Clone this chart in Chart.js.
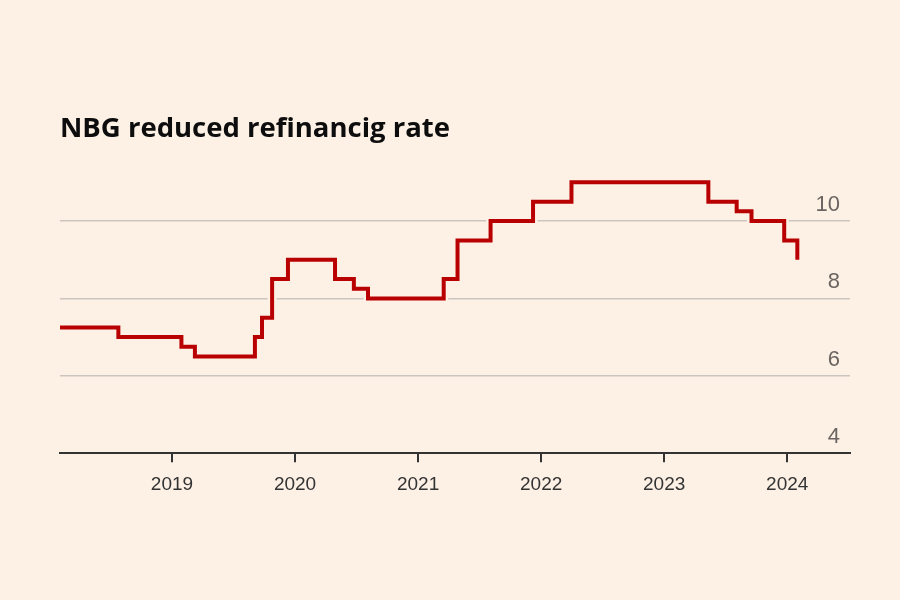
<!DOCTYPE html>
<html>
<head>
<meta charset="UTF-8"/>
<title>NBG refinancing rate</title>
<script src="https://cdn.jsdelivr.net/npm/chart.js@4/dist/chart.umd.min.js"></script>
<style type="text/css">
    body { margin: 0; background: #fdf1e6; }
    #holder { width: 900px; height: 600px; }
</style>
</head>
<body>
<div id="holder">
    <canvas id="chart-area" width="900" height="600"></canvas>
</div>
<script type="text/javascript">
    // rate changes: date the new rate took effect, and the rate
    var dates = ["2018-02-01", "2018-07-26", "2019-01-29", "2019-03-10", "2019-09-04",
                 "2019-09-25", "2019-10-25", "2019-12-11", "2020-04-29", "2020-06-24",
                 "2020-08-05", "2021-03-18", "2021-04-28", "2021-08-04", "2021-12-08",
                 "2022-04-01", "2023-05-12", "2023-08-04", "2023-09-17", "2023-12-23",
                 "2024-01-31"];
    var rates = [7.25, 7.0, 6.75, 6.5, 7.0,
                 7.5, 8.5, 9.0, 8.5, 8.25,
                 8.0, 8.5, 9.5, 10.0, 10.5,
                 11.0, 10.5, 10.25, 10.0, 9.5,
                 9.0];
    var yearTicks = [2019, 2020, 2021, 2022, 2023, 2024];
    var rateTicks = [4, 6, 8, 10];

    var bg = "#fdf1e6";

    function toYear(s) {
        var d = new Date(s + "T00:00:00Z");
        var y = d.getUTCFullYear();
        var a = Date.UTC(y, 0, 1), b = Date.UTC(y + 1, 0, 1);
        return y + (d.getTime() - a) / (b - a);
    }

    var points = [];
    for (var i = 0; i < dates.length; i++) {
        points.push({ x: toYear(dates[i]), y: rates[i] });
    }

    var ctx = document.getElementById('chart-area').getContext('2d');
    new Chart(ctx, {
        type: 'line',
        data: {
            datasets: [{
                data: points,
                stepped: true,
                borderColor: '#b90000',
                borderWidth: 4,
                borderJoinStyle: 'miter',
                borderCapStyle: 'butt',
                pointRadius: 0,
                fill: false,
                order: 1
            }, {
                // halo that cuts the gridlines behind the line
                data: points,
                stepped: true,
                borderColor: bg,
                borderWidth: 9,
                borderJoinStyle: 'miter',
                pointRadius: 0,
                fill: false,
                order: 2
            }]
        },
        options: {
            responsive: false,
            animation: false,
            layout: { padding: { left: 60, right: 50, top: 113, bottom: 93 } },
            plugins: {
                legend: { display: false },
                tooltip: { enabled: false },
                title: {
                    display: true,
                    text: 'NBG reduced refinancig rate',
                    align: 'start',
                    color: '#0d0d0d',
                    font: { family: '"Open Sans", "Noto Sans", sans-serif', size: 27.5, weight: 'bold' },
                    padding: { top: 0, bottom: 17 }
                }
            },
            scales: {
                x: {
                    type: 'linear',
                    min: 2018.09,
                    max: 2024.51,
                    afterBuildTicks: function (scale) {
                        scale.ticks = yearTicks.map(function (v) { return { value: v }; });
                    },
                    grid: { drawOnChartArea: false, color: '#333333', lineWidth: 2, tickLength: 9 },
                    border: { display: true, color: '#333333', width: 2 },
                    ticks: {
                        color: '#333333',
                        padding: 11,
                        maxRotation: 0,
                        font: { family: '"Liberation Sans", Arial, sans-serif', size: 19 },
                        callback: function (v) { return String(v); }
                    }
                },
                y: {
                    type: 'linear',
                    position: 'right',
                    min: 4,
                    max: 11.5,
                    afterBuildTicks: function (scale) {
                        scale.ticks = rateTicks.map(function (v) { return { value: v }; });
                    },
                    grid: {
                        drawTicks: false,
                        lineWidth: 1.5,
                        color: function (c) { return c.tick && c.tick.value === 4 ? 'rgba(0,0,0,0)' : '#cbc5c0'; }
                    },
                    border: { display: false },
                    ticks: {
                        mirror: true,
                        padding: -10,
                        labelOffset: -16,
                        color: '#6b6561',
                        font: { family: '"Liberation Sans", Arial, sans-serif', size: 22 }
                    }
                }
            }
        }
    });
</script>
</body>
</html>
